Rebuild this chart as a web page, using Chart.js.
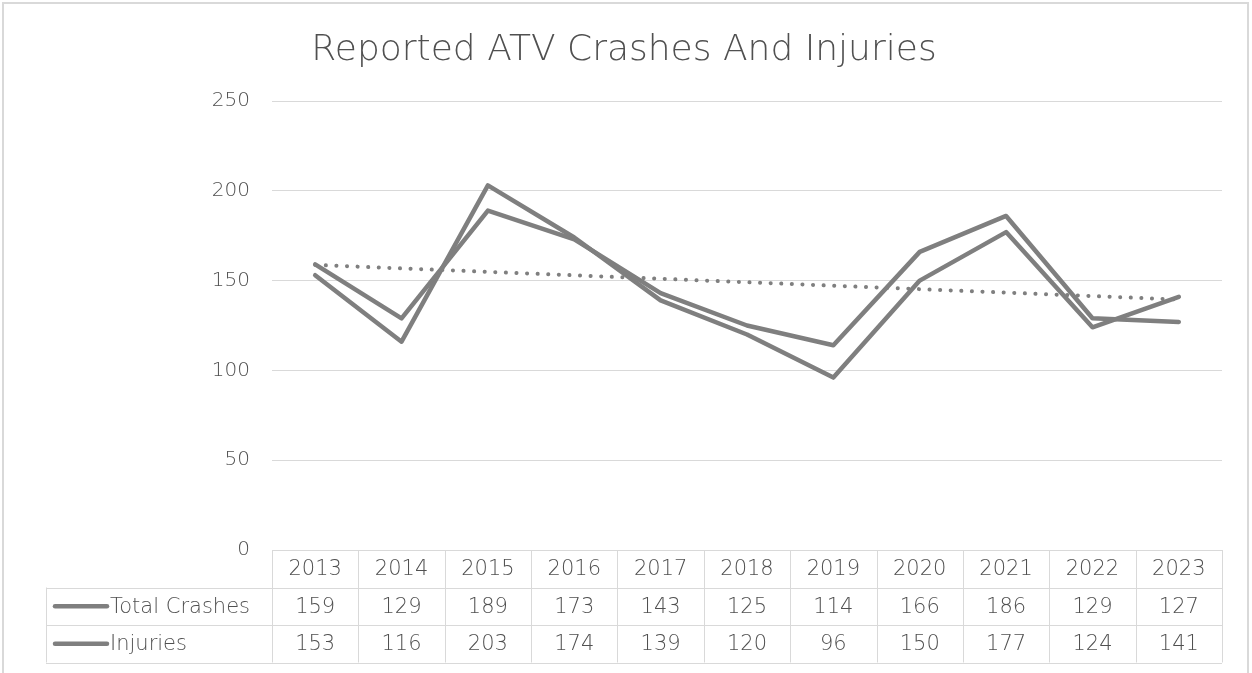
<!DOCTYPE html>
<html>
<head>
<meta charset="utf-8">
<script src="https://cdn.jsdelivr.net/npm/chart.js@4"></script>
<style>
  html, body { margin: 0; padding: 0; background: #fff; }
  #wrap { width: 1252px; height: 673px; }
</style>
</head>
<body>
<div id="wrap"><canvas id="myChart" width="1252" height="673"></canvas></div>
<script>
var years = ['2013', '2014', '2015', '2016', '2017', '2018', '2019', '2020', '2021', '2022', '2023'];
var totalCrashes = [159, 129, 189, 173, 143, 125, 114, 166, 186, 129, 127];
var injuries = [153, 116, 203, 174, 139, 120, 96, 150, 177, 124, 141];
var seriesNames = ['Total Crashes', 'Injuries'];

var FONT = '"DejaVu Sans", Lato, sans-serif';
var WEIGHT = '200 ';
var TEXT = '#505050';
var LINE = '#7f7f7f';
var GRID = '#d9d9d9';

// linear trend of total crashes (least squares)
function trendOf(values) {
    var n = values.length, sx = 0, sy = 0, sxy = 0, sxx = 0;
    for (var i = 0; i < n; i++) {
        sx += i; sy += values[i]; sxy += i * values[i]; sxx += i * i;
    }
    var slope = (n * sxy - sx * sy) / (n * sxx - sx * sx);
    var icpt = (sy - slope * sx) / n;
    return values.map(function (v, i) { return icpt + slope * i; });
}

var tableRows = [totalCrashes, injuries];

var tablePlugin = {
    id: 'dataTable',
    afterDraw: function (chart) {
        var ctx = chart.ctx;
        var area = chart.chartArea;
        var x = chart.scales.x;
        var colW = (area.right - area.left) / years.length;
        var rowH = 37.5;
        var top = area.bottom;
        var tableLeft = 46;

        ctx.save();

        // outer frame
        ctx.strokeStyle = GRID;
        ctx.lineWidth = 2;
        ctx.beginPath();
        ctx.moveTo(3, 680);
        ctx.lineTo(3, 3);
        ctx.lineTo(1248, 3);
        ctx.lineTo(1248, 680);
        ctx.stroke();

        // title
        ctx.fillStyle = TEXT;
        ctx.font = WEIGHT + '36px ' + FONT;
        ctx.textAlign = 'center';
        ctx.textBaseline = 'alphabetic';
        ctx.fillText('Reported ATV Crashes And Injuries', 624, 60);

        // table grid
        ctx.strokeStyle = GRID;
        ctx.lineWidth = 1;
        ctx.beginPath();
        ctx.moveTo(area.left, top + 0.5);
        ctx.lineTo(area.right, top + 0.5);
        for (var r = 1; r <= 3; r++) {
            var yy = Math.round(top + r * rowH) + 0.5;
            ctx.moveTo(tableLeft, yy);
            ctx.lineTo(area.right, yy);
        }
        ctx.moveTo(tableLeft + 0.5, top + rowH);
        ctx.lineTo(tableLeft + 0.5, top + 3 * rowH);
        for (var c = 0; c <= years.length; c++) {
            var xx = Math.round(area.left + c * colW) + 0.5;
            ctx.moveTo(xx, top);
            ctx.lineTo(xx, top + 3 * rowH);
        }
        ctx.stroke();

        // header and values
        ctx.font = WEIGHT + '21px ' + FONT;
        ctx.fillStyle = TEXT;
        ctx.textAlign = 'center';
        ctx.textBaseline = 'middle';
        years.forEach(function (yr, i) {
            var cx = x.getPixelForValue(i);
            ctx.fillText(yr, cx, top + rowH / 2 + 1);
            tableRows.forEach(function (row, r) {
                ctx.fillText(String(row[i]), cx, top + (r + 1.5) * rowH + 1);
            });
        });

        // legend keys
        seriesNames.forEach(function (name, r) {
            var cy = top + (r + 1.5) * rowH;
            ctx.strokeStyle = LINE;
            ctx.lineWidth = 4.5;
            ctx.lineCap = 'round';
            ctx.beginPath();
            ctx.moveTo(55, cy);
            ctx.lineTo(107, cy);
            ctx.stroke();
            ctx.fillStyle = TEXT;
            ctx.textAlign = 'left';
            ctx.fillText(name, 110, cy + 1);
        });

        ctx.restore();
    }
};

var ctx = document.getElementById('myChart').getContext('2d');
var myChart = new Chart(ctx, {
    type: 'line',
    data: {
        labels: years,
        datasets: [
            {
                label: seriesNames[0],
                data: totalCrashes,
                borderColor: LINE,
                borderWidth: 4.5,
                pointRadius: 0,
                borderJoinStyle: 'round',
                borderCapStyle: 'round',
                tension: 0
            },
            {
                label: seriesNames[1],
                data: injuries,
                borderColor: LINE,
                borderWidth: 4.5,
                pointRadius: 0,
                borderJoinStyle: 'round',
                borderCapStyle: 'round',
                tension: 0
            },
            {
                label: 'Linear (Total Crashes)',
                data: trendOf(totalCrashes),
                borderColor: LINE,
                borderWidth: 4,
                borderDash: [0.1, 10.5],
                borderCapStyle: 'round',
                pointRadius: 0,
                tension: 0
            }
        ]
    },
    options: {
        responsive: false,
        animation: false,
        layout: { padding: { top: 101, bottom: 123, right: 30, left: 0 } },
        plugins: {
            legend: { display: false },
            title: { display: false },
            tooltip: { enabled: false }
        },
        scales: {
            x: {
                display: false,
                offset: true
            },
            y: {
                min: 0,
                max: 250,
                afterFit: function (scale) { scale.width = 272; },
                border: { display: false },
                grid: { color: GRID, lineWidth: 1, drawTicks: false },
                ticks: {
                    stepSize: 50,
                    padding: 22,
                    color: TEXT,
                    font: { family: FONT, size: 20, weight: 200 }
                }
            }
        }
    },
    plugins: [tablePlugin]
});
</script>
</body>
</html>
